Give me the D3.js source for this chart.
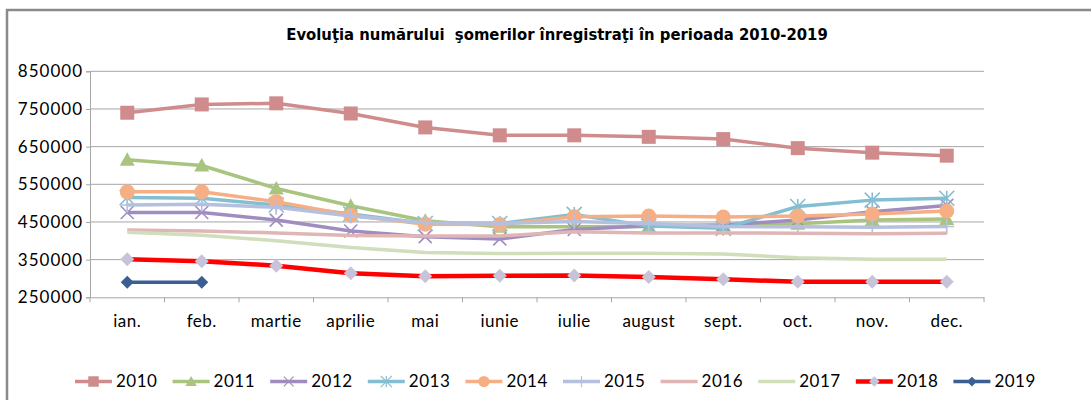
<!DOCTYPE html>
<html><head><meta charset="utf-8">
<script src="https://cdn.jsdelivr.net/npm/d3@7"></script>
<style>body{margin:0;background:#fff}svg{display:block}</style>
</head><body><svg id="c" width="1091" height="400"></svg>
<script>
const title = "Evoluţia numărului  şomerilor înregistraţi în perioada 2010-2019";
const months = ["ian.","feb.","martie","aprilie","mai","iunie","iulie","august","sept.","oct.","nov.","dec."];
const yTicks = [250000,350000,450000,550000,650000,750000,850000];

const v2010 = [740000,762000,765000,738000,701000,680000,680000,676000,670000,646000,634000,626000];
const v2011 = [615000,600000,539000,493000,453000,437000,437000,438000,442000,445000,455000,458000];
const v2012 = [475000,475000,455000,426000,411000,405000,430000,440000,442000,455000,477000,494000];
const v2013 = [515000,513000,495000,471000,446000,446000,470000,439000,433000,491000,508000,513000];
const v2014 = [530000,530000,504000,468000,444000,443000,464000,466000,463000,466000,471000,479000];
const v2015 = [495000,497000,489000,466000,448000,446000,451000,446000,438000,437000,436000,438000];
const v2016 = [429000,426000,421000,414000,413000,413000,424000,421000,421000,420000,419000,420000];
const v2017 = [423000,415000,400000,382000,369000,366000,367000,367000,365000,355000,351000,351000];
const v2018 = [351000,346000,334000,314000,306000,307000,308000,304000,298000,291000,291000,291000];
const v2019 = [290000,290000];

const seriesNames = ["2010","2011","2012","2013","2014","2015","2016","2017","2018","2019"];
const seriesValues = [v2010,v2011,v2012,v2013,v2014,v2015,v2016,v2017,v2018,v2019];
const lineColors = ["#D08C8C","#A9C47F","#A08DC0","#84BED2","#F6AF84","#B4C0DE","#DFB5B5","#D0DEBB","#FF0000","#3B5F93"];
const markerFills = ["#D08C8C","#A9C47F","#A08DC0","#84BED2","#F6AF84","#B4C0DE","#DFB5B5","#D0DEBB","#C9C3DA","#3B5F93"];
const markerTypes = ["square","triangle","x","star","circle","plus","none","none","diamond","diamond"];
const markerSizes = [14,15,13,15,15,15,0,0,14,13];

const svg = d3.select("#c");
svg.append("rect").attr("width",1091).attr("height",400).attr("fill","#fff");
svg.append("path").attr("d","M7,400V10H1091").attr("fill","none").attr("stroke","#8a8a8a").attr("stroke-width",2.5);

const L = 90, R = 984, T = 71.3, B = 297.3;
const x = d3.scaleBand().domain(months).range([L,R]);
const y = d3.scaleLinear().domain([250000,850000]).range([B,T]);

svg.append("text").attr("x",557).attr("y",40).attr("text-anchor","middle")
  .attr("font-family","DejaVu Sans Condensed, DejaVu Sans").attr("font-weight","bold").attr("font-size",16.5)
  .style("white-space","pre").attr("fill","#000").text(title);

// gridlines
svg.append("g").selectAll("line").data(yTicks.slice(1)).join("line")
  .attr("x1",L).attr("x2",R).attr("y1",d=>y(d)).attr("y2",d=>y(d))
  .attr("stroke","#a6a6a6").attr("stroke-width",1);

const font = "Lato, Liberation Sans, sans-serif";
const yAxis = svg.append("g").attr("transform",`translate(${L},0)`)
  .call(d3.axisLeft(y).tickValues(yTicks).tickSize(4).tickFormat(d3.format("d")));
yAxis.select(".domain").attr("stroke","#a6a6a6");
yAxis.selectAll(".tick line").attr("stroke","#a6a6a6");
yAxis.selectAll("text").attr("font-family",font).attr("font-size",17).attr("fill","#000").attr("x",-7).attr("letter-spacing",1);

const xAxis = svg.append("g").attr("transform",`translate(0,${B})`)
  .call(d3.axisBottom(x).tickSize(0).tickPadding(18));
xAxis.select(".domain").attr("stroke","#a6a6a6");
xAxis.selectAll("text").attr("font-family",font).attr("font-size",17).attr("fill","#000").attr("letter-spacing",0.5);
// category boundary ticks
const bounds = months.map(m=>x(m)).concat([R]);
svg.append("g").selectAll("line").data(bounds).join("line")
  .attr("x1",d=>d).attr("x2",d=>d).attr("y1",B).attr("y2",B+5).attr("stroke","#a6a6a6");

function markerPath(type, s){
  const h = s/2;
  switch(type){
    case "square": return `M${-h},${-h}H${h}V${h}H${-h}Z`;
    case "triangle": return `M0,${-h}L${h},${h*0.8}L${-h},${h*0.8}Z`;
    case "diamond": return `M0,${-h}L${h},0L0,${h}L${-h},0Z`;
    case "circle": return d3.arc()({innerRadius:0,outerRadius:h,startAngle:0,endAngle:2*Math.PI});
    case "x": return `M${-h},${-h}L${h},${h}M${-h},${h}L${h},${-h}`;
    case "plus": return `M0,${-h}V${h}M${-h},0H${h}`;
    case "star": return `M${-h},${-h}L${h},${h}M${-h},${h}L${h},${-h}M0,${-h}V${h}`;
  }
  return "";
}
const strokeOnly = t => t==="x"||t==="plus"||t==="star";

const line = d3.line().x((d,i)=>x(months[i])+x.bandwidth()/2).y(d=>y(d));
seriesValues.forEach((vals,si)=>{
  const g = svg.append("g");
  g.append("path").attr("d",line(vals)).attr("fill","none").attr("stroke",lineColors[si])
    .attr("stroke-width",si===8?4.5:3.5).attr("stroke-linejoin","round");
  const t = markerTypes[si];
  if(t!=="none"){
    g.selectAll("path.m").data(vals).join("path").attr("class","m")
      .attr("transform",(d,i)=>`translate(${x(months[i])+x.bandwidth()/2},${y(d)})`)
      .attr("d",markerPath(t,markerSizes[si]))
      .attr("fill",strokeOnly(t)?"none":markerFills[si])
      .attr("stroke",strokeOnly(t)?markerFills[si]:"none")
      .attr("stroke-width",1.6);
  }
});

// legend
const lg = svg.append("g");
seriesNames.forEach((name,si)=>{
  const x0 = 75 + si*97.6, yy = 381.5;
  const g = lg.append("g").attr("transform",`translate(${x0},${yy})`);
  g.append("line").attr("x1",0).attr("x2",37).attr("stroke",lineColors[si]).attr("stroke-width",si===8?4.5:3.5);
  const t = markerTypes[si];
  if(t!=="none"){
    g.append("path").attr("transform","translate(18.5,0)").attr("d",markerPath(t,markerSizes[si]*0.75))
      .attr("fill",strokeOnly(t)?"none":markerFills[si])
      .attr("stroke",strokeOnly(t)?markerFills[si]:"none").attr("stroke-width",1.2);
  }
  g.append("text").attr("x",41).attr("y",0).attr("dy","0.35em").attr("font-family",font).attr("font-size",17)
    .attr("fill","#000").attr("letter-spacing",0.5).text(name);
});
</script></body></html>
